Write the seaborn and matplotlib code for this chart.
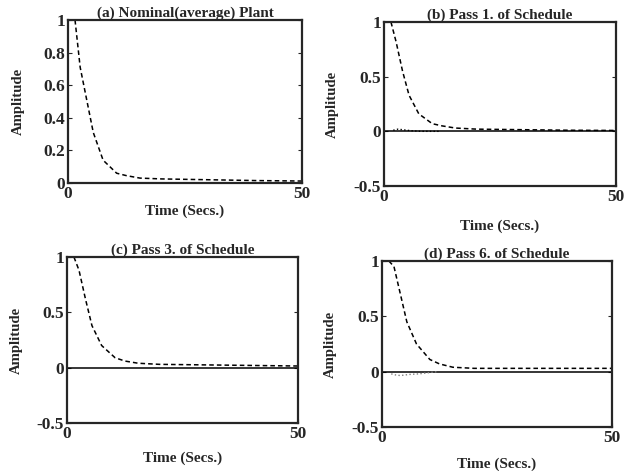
import matplotlib
matplotlib.use('Agg')
import seaborn as sns
import matplotlib.pyplot as plt
import pandas as pd

# time samples (secs.)
t = [1.5, 2.6, 4.0, 5.4, 7.5, 10.4, 12.5, 15.4, 20, 30, 40, 50]
# dashed response for each panel
resp_a = [1.0, 0.71, 0.51, 0.31, 0.14, 0.06, 0.045, 0.03, 0.025, 0.02, 0.015, 0.012]
resp_b = [1.0, 0.82, 0.55, 0.33, 0.16, 0.07, 0.05, 0.03, 0.02, 0.015, 0.01, 0.008]
resp_c = [1.0, 0.88, 0.62, 0.38, 0.2, 0.09, 0.06, 0.04, 0.03, 0.025, 0.02, 0.015]
resp_d = [1.0, 0.95, 0.7, 0.45, 0.25, 0.11, 0.07, 0.04, 0.03, 0.03, 0.03, 0.03]
# solid line at zero
zero_t = [0, 50]
zero_y = [0, 0]
# dotted error traces
err_t = [2, 3, 4, 5, 6, 8, 10, 12]
err_b = [0.01, 0.02, 0.015, 0.01, 0.005, 0.0, 0.0, 0.0]
err_d = [-0.02, -0.03, -0.035, -0.03, -0.025, -0.02, -0.01, 0.0]

titles = ['(a) Nominal(average) Plant', '(b) Pass 1. of Schedule',
          '(c) Pass 3. of Schedule', '(d) Pass 6. of Schedule']

sns.set_style("ticks")
plt.rcParams['font.family'] = ['Liberation Serif', 'DejaVu Serif']
plt.rcParams['font.weight'] = 'bold'

fig = plt.figure(figsize=(6.28, 4.71), dpi=100)
W, H = 628, 471
boxes = [(68, 20, 302, 183), (384, 22, 616, 186), (67, 257, 298, 423), (382, 261, 612, 427)]
ylab_x = [25, 339, 23, 337]      # right edge of rotated label (px)
xlab_y = [205, 220, 452, 458]    # top of x label (px)
resps = [resp_a, resp_b, resp_c, resp_d]

for i, (l, tp, r, b) in enumerate(boxes):
    ax = fig.add_axes([l / W, 1 - b / H, (r - l) / W, (b - tp) / H])
    df = pd.DataFrame({'t': t, 'y': resps[i]})
    sns.lineplot(data=df, x='t', y='y', ax=ax, color='black', lw=1.1, linestyle=(0, (3, 2)))
    if i == 0:
        ax.set_ylim(0, 1)
        ax.set_yticks([0, 0.2, 0.4, 0.6, 0.8, 1])
        ax.set_yticklabels(['0', '0.2', '0.4', '0.6', '0.8', '1'])
    else:
        sns.lineplot(x=zero_t, y=zero_y, ax=ax, color='black', lw=1.1)
        if i == 1:
            sns.lineplot(x=err_t, y=err_b, ax=ax, color='black', lw=1.0, linestyle=':')
        if i == 3:
            sns.lineplot(x=err_t, y=err_d, ax=ax, color='0.5', lw=1.0, linestyle=':')
        ax.set_ylim(-0.5, 1)
        ax.set_yticks([-0.5, 0, 0.5, 1])
        ax.set_yticklabels(['-0.5', '0', '0.5', '1'])
    ax.set_xlim(0, 50)
    ax.set_xticks([0, 50])
    ax.set_xticklabels(['0', '50'])
    ax.tick_params(direction='in', right=True, length=3, labelsize=12.5, pad=2)
    for s in ax.spines.values():
        s.set_linewidth(1.6)
    ax.set_title(titles[i], fontsize=11, fontweight='bold', pad=1)
    ax.set_xlabel('Time (Secs.)', fontsize=11, fontweight='bold')
    ax.set_ylabel('Amplitude', fontsize=10.6, fontweight='bold')
    ax.yaxis.set_label_coords((ylab_x[i] - l) / (r - l), 0.5)
    ax.xaxis.set_label_coords(0.5, (b - xlab_y[i]) / (b - tp))

fig.savefig('out.png', dpi=100)
